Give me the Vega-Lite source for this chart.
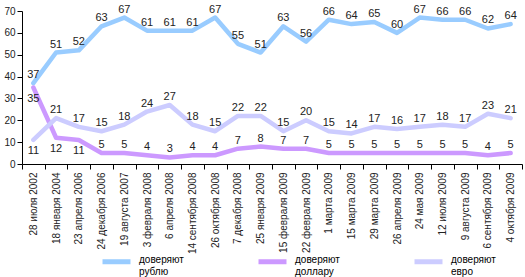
{
  "$schema": "https://vega.github.io/schema/vega-lite/v6.json",
  "width": 500,
  "height": 153,
  "autosize": {"type": "none"},
  "padding": {"left": 22, "top": 11, "right": 3, "bottom": 113},
  "background": "white",
  "config": {
    "view": {"stroke": null},
    "font": "Liberation Sans",
    "axis": {"labelFont": "Liberation Sans", "labelFontSize": 10, "labelColor": "#222", "domainColor": "#000", "tickColor": "#000", "grid": false, "title": null}
  },
  "data": {
    "values": [
      {"date": "28 июля 2002", "доверяют рублю": 37, "доверяют доллару": 35, "доверяют евро": 11},
      {"date": "18 января 2004", "доверяют рублю": 51, "доверяют доллару": 12, "доверяют евро": 21},
      {"date": "23 апреля 2006", "доверяют рублю": 52, "доверяют доллару": 11, "доверяют евро": 17},
      {"date": "24 декабря 2006", "доверяют рублю": 63, "доверяют доллару": 5, "доверяют евро": 15},
      {"date": "19 августа 2007", "доверяют рублю": 67, "доверяют доллару": 5, "доверяют евро": 18},
      {"date": "3 февраля 2008", "доверяют рублю": 61, "доверяют доллару": 4, "доверяют евро": 24},
      {"date": "6 апреля 2008", "доверяют рублю": 61, "доверяют доллару": 3, "доверяют евро": 27},
      {"date": "14 сентября 2008", "доверяют рублю": 61, "доверяют доллару": 4, "доверяют евро": 18},
      {"date": "26 октября 2008", "доверяют рублю": 67, "доверяют доллару": 4, "доверяют евро": 15},
      {"date": "7 декабря 2008", "доверяют рублю": 55, "доверяют доллару": 7, "доверяют евро": 22},
      {"date": "25 января 2009", "доверяют рублю": 51, "доверяют доллару": 8, "доверяют евро": 22},
      {"date": "15 февраля 2009", "доверяют рублю": 63, "доверяют доллару": 7, "доверяют евро": 15},
      {"date": "22 февраля 2009", "доверяют рублю": 56, "доверяют доллару": 7, "доверяют евро": 20},
      {"date": "1 марта 2009", "доверяют рублю": 66, "доверяют доллару": 5, "доверяют евро": 15},
      {"date": "15 марта 2009", "доверяют рублю": 64, "доверяют доллару": 5, "доверяют евро": 14},
      {"date": "29 марта 2009", "доверяют рублю": 65, "доверяют доллару": 5, "доверяют евро": 17},
      {"date": "26 апреля 2009", "доверяют рублю": 60, "доверяют доллару": 5, "доверяют евро": 16},
      {"date": "24 мая 2009", "доверяют рублю": 67, "доверяют доллару": 5, "доверяют евро": 17},
      {"date": "12 июля 2009", "доверяют рублю": 66, "доверяют доллару": 5, "доверяют евро": 18},
      {"date": "9 августа 2009", "доверяют рублю": 66, "доверяют доллару": 5, "доверяют евро": 17},
      {"date": "6 сентября 2009", "доверяют рублю": 62, "доверяют доллару": 4, "доверяют евро": 23},
      {"date": "4 октября 2009", "доверяют рублю": 64, "доверяют доллару": 5, "доверяют евро": 21}
    ]
  },
  "transform": [
    {"fold": ["доверяют рублю", "доверяют доллару", "доверяют евро"], "as": ["series", "value"]}
  ],
  "encoding": {
    "x": {
      "field": "date", "type": "nominal", "sort": null,
      "scale": {"type": "band", "paddingInner": 0, "paddingOuter": 0},
      "axis": {"labelAngle": -90, "tickBand": "extent", "tickSize": 5, "labelPadding": 3, "labelBaseline": "middle", "labelAlign": "right"}
    },
    "y": {
      "field": "value", "type": "quantitative",
      "scale": {"domain": [0, 70], "nice": false},
      "axis": {"values": [0, 10, 20, 30, 40, 50, 60, 70], "tickSize": 5, "labelPadding": 2}
    }
  },
  "layer": [
    {
      "mark": {"type": "line", "strokeWidth": 4.5, "strokeCap": "round", "strokeJoin": "round"},
      "encoding": {
        "color": {
          "field": "series", "type": "nominal",
          "sort": ["доверяют рублю", "доверяют доллару", "доверяют евро"],
          "scale": {"domain": ["доверяют рублю", "доверяют доллару", "доверяют евро"], "range": ["#99ccff", "#cc99ff", "#ccccff"]},
          "legend": {
            "title": null, "orient": "none", "legendX": 78, "legendY": 227,
            "direction": "horizontal", "columns": 3, "columnPadding": 64,
            "symbolType": "M-1,0.5L1,0.5", "symbolSize": 784, "symbolStrokeWidth": 5,
            "labelExpr": "split(datum.label, ' ')", "labelFontSize": 10, "labelColor": "#000",
            "labelBaseline": "top", "labelOffset": 6, "labelLineHeight": 11
          }
        }
      }
    },
    {
      "transform": [{"filter": "!((datum.series == 'доверяют доллару' && datum.value > 10) || (datum.series == 'доверяют евро' && datum.date == '28 июля 2002'))"}],
      "mark": {"type": "text", "fontSize": 11, "color": "#222", "dy": -8, "baseline": "middle"},
      "encoding": {"text": {"field": "value", "type": "quantitative"}}
    },
    {
      "transform": [{"filter": "(datum.series == 'доверяют доллару' && datum.value > 10) || (datum.series == 'доверяют евро' && datum.date == '28 июля 2002')"}],
      "mark": {"type": "text", "fontSize": 11, "color": "#222", "dy": 11, "baseline": "middle"},
      "encoding": {"text": {"field": "value", "type": "quantitative"}}
    }
  ]
}
